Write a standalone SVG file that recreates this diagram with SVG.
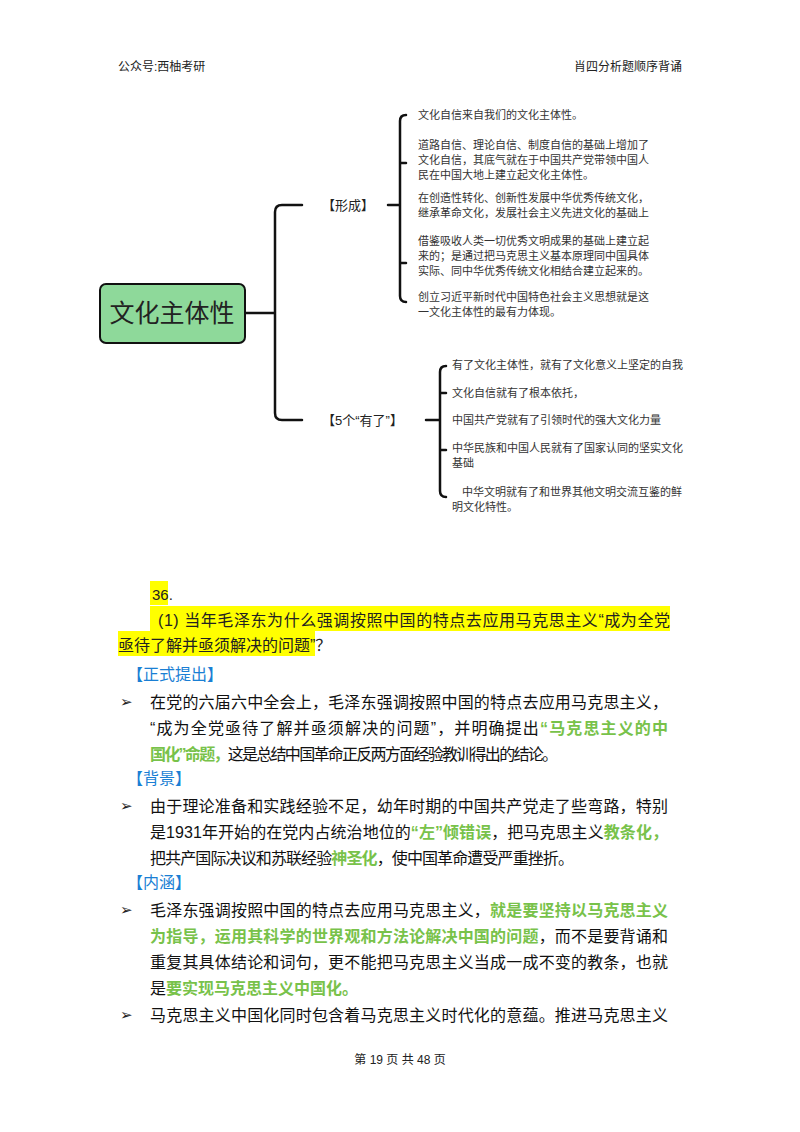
<svg xmlns="http://www.w3.org/2000/svg" width="800" height="1132" viewBox="0 0 800 1132">
<style>
text{font-family:"Liberation Sans","Noto Sans CJK SC",sans-serif;fill:#222}
.s{font-size:11px;fill:#333}
.b{font-size:16px;fill:#111}
.h{font-size:16px;fill:#1a7fd4}
.g{fill:#78c24a;font-weight:bold}
.ln{fill:none;stroke:#111;stroke-width:2.5;stroke-linecap:round}
</style>
<rect width="800" height="1132" fill="#fff"/>
<text x="118" y="71" font-size="12">公众号:西柚考研</text>
<text x="682" y="71" font-size="12" text-anchor="end">肖四分析题顺序背诵</text>
<g id="connectors">
<path class="ln" d="M245 313H275M302 205H282Q275 205 275 212V413Q275 420 282 420H302"/>
<path class="ln" d="M388 205H400M406 115Q400 115 400 121V296Q400 302 406 302M400 163H406M400 263H406"/>
<path class="ln" d="M426 420H440M446 366Q440 366 440 372V491Q440 497 446 497M440 393H446M440 450H446"/>
</g>
<g id="root"><rect x="100" y="284" width="145" height="59" rx="6" fill="#8ed99a" stroke="#111" stroke-width="2"/>
<text x="172" y="322" font-size="25" text-anchor="middle" fill="#111">文化主体性</text></g>
<g id="xc"><text x="322" y="210" font-size="13">【形成】</text></g>
<g id="yl"><text x="322" y="425" font-size="13">【5个“有了”】</text></g>
<g id="f1"><text class="s" x="418" y="119">文化自信来自我们的文化主体性。</text></g>
<g id="f2"><text class="s" x="418" y="149">道路自信、理论自信、制度自信的基础上增加了</text><text class="s" x="418" y="164">文化自信，其底气就在于中国共产党带领中国人</text><text class="s" x="418" y="179">民在中国大地上建立起文化主体性。</text></g>
<g id="f3"><text class="s" x="418" y="202">在创造性转化、创新性发展中华优秀传统文化，</text><text class="s" x="418" y="217">继承革命文化，发展社会主义先进文化的基础上</text></g>
<g id="f4"><text class="s" x="418" y="245">借鉴吸收人类一切优秀文明成果的基础上建立起</text><text class="s" x="418" y="260">来的；是通过把马克思主义基本原理同中国具体</text><text class="s" x="418" y="275">实际、同中华优秀传统文化相结合建立起来的。</text></g>
<g id="f5"><text class="s" x="418" y="301">创立习近平新时代中国特色社会主义思想就是这</text><text class="s" x="418" y="316">一文化主体性的最有力体现。</text></g>
<g id="y1"><text class="s" x="452" y="369">有了文化主体性，就有了文化意义上坚定的自我</text></g>
<g id="y2"><text class="s" x="452" y="397">文化自信就有了根本依托，</text></g>
<g id="y3"><text class="s" x="452" y="424">中国共产党就有了引领时代的强大文化力量</text></g>
<g id="y4"><text class="s" x="452" y="452">中华民族和中国人民就有了国家认同的坚实文化</text><text class="s" x="452" y="467">基础</text></g>
<g id="y5"><text class="s" x="462" y="496">中华文明就有了和世界其他文明交流互鉴的鲜</text><text class="s" x="452" y="511">明文化特性。</text></g>
<rect x="150" y="581" width="18" height="24" fill="#ffff00"/>
<rect x="150" y="606" width="520" height="25" fill="#ffff00"/>
<rect x="118" y="631" width="197" height="25" fill="#ffff00"/>
<text x="152" y="600" font-size="15">36.</text>
<text x="158" y="626" font-size="16" textLength="512" lengthAdjust="spacing">(1) 当年毛泽东为什么强调按照中国的特点去应用马克思主义“成为全党</text>
<text x="118" y="651" font-size="16">亟待了解并亟须解决的问题”？</text>
<text class="h" x="127" y="680">【正式提出】</text>
<text class="h" x="127" y="784">【背景】</text>
<text class="h" x="127" y="888">【内涵】</text>
<text x="120" y="707" font-size="15">➢</text>
<text x="120" y="811" font-size="15">➢</text>
<text x="120" y="915" font-size="15" fill="#78c24a">➢</text>
<text x="120" y="1020" font-size="15" fill="#78c24a">➢</text>
<text class="b" x="150" y="708" textLength="518" lengthAdjust="spacing">在党的六届六中全会上，毛泽东强调按照中国的特点去应用马克思主义，</text>
<text class="b" x="150" y="734" textLength="518" lengthAdjust="spacing">“成为全党亟待了解并亟须解决的问题”，并明确提出<tspan class="g">“马克思主义的中</tspan></text>
<text class="b" x="150" y="760" textLength="408" lengthAdjust="spacing"><tspan class="g">国化”命题，</tspan>这是总结中国革命正反两方面经验教训得出的结论。</text>
<text class="b" x="150" y="812" textLength="518" lengthAdjust="spacing">由于理论准备和实践经验不足，幼年时期的中国共产党走了些弯路，特别</text>
<text class="b" x="150" y="838" textLength="518" lengthAdjust="spacing">是1931年开始的在党内占统治地位的<tspan class="g">“左”倾错误</tspan>，把马克思主义<tspan class="g">教条化，</tspan></text>
<text class="b" x="150" y="864" textLength="424" lengthAdjust="spacing">把共产国际决议和苏联经验<tspan class="g">神圣化</tspan>，使中国革命遭受严重挫折。</text>
<text class="b" x="150" y="916" textLength="518" lengthAdjust="spacing">毛泽东强调按照中国的特点去应用马克思主义，<tspan class="g">就是要坚持以马克思主义</tspan></text>
<text class="b" x="150" y="942" textLength="518" lengthAdjust="spacing"><tspan class="g">为指导，运用其科学的世界观和方法论解决中国的问题</tspan>，而不是要背诵和</text>
<text class="b" x="150" y="968" textLength="518" lengthAdjust="spacing">重复其具体结论和词句，更不能把马克思主义当成一成不变的教条，也就</text>
<text class="b" x="150" y="994">是<tspan class="g">要实现马克思主义中国化。</tspan></text>
<text class="b" x="150" y="1021" textLength="518" lengthAdjust="spacing">马克思主义中国化同时包含着马克思主义时代化的意蕴。推进马克思主义</text>
<text x="400" y="1064" font-size="12" text-anchor="middle">第 19 页 共 48 页</text>
</svg>
